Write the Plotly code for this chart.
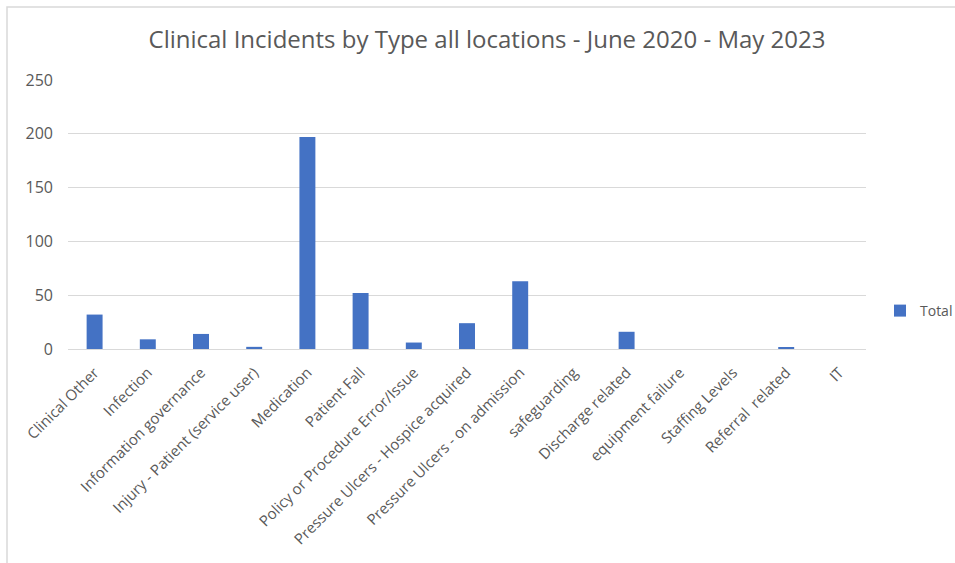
import plotly.graph_objects as go

categories = ["Clinical Other", "Infection", "Information governance",
              "Injury - Patient (service user)", "Medication", "Patient Fall",
              "Policy or Procedure Error/Issue", "Pressure Ulcers - Hospice acquired",
              "Pressure Ulcers - on admission", "safeguarding", "Discharge related",
              "equipment failure", "Staffing Levels", "Referral  related", "IT"]
totals = [32, 9, 14, 2, 197, 52, 6, 24, 63, 0, 16, 0, 0, 1, 0]
y_ticks = [0, 50, 100, 150, 200, 250]

W, H = 955, 563
L, R, T, B = 68, 89, 80, 214
pw = W - L - R
ph = H - T - B

font = "Open Sans"
grey = "#595959"

fig = go.Figure()
fig.add_trace(go.Bar(x=categories, y=totals, name="Total",
                     marker=dict(color="#4472C4", line=dict(width=0))))

fig.update_layout(
    width=W, height=H,
    margin=dict(l=L, r=R, t=T, b=B, autoexpand=False),
    paper_bgcolor="white", plot_bgcolor="white",
    bargap=0.7,
    showlegend=True,
    title=dict(text="Clinical Incidents by Type all locations - June 2020 - May 2023",
               x=487 / W, xanchor="center", y=1 - 40 / H, yanchor="middle",
               font=dict(family=font, size=24, color=grey)),
    font=dict(family=font, size=12, color=grey),
    legend=dict(x=(880 - L) / pw, xanchor="left", y=(349 - 311) / ph, yanchor="middle",
                font=dict(size=14, color=grey), bgcolor="rgba(0,0,0,0)",
                itemwidth=30),
    xaxis=dict(tickangle=-45, tickfont=dict(size=15, color=grey),
               showline=True, linecolor="#d9d9d9", linewidth=1,
               ticks="", showgrid=False, ticklabelstandoff=8),
    yaxis=dict(range=[0, 250], tickvals=y_ticks, tickfont=dict(size=16, color=grey),
               showgrid=True, gridcolor="#d9d9d9", gridwidth=1,
               zeroline=False, ticks="", ticklabelstandoff=14),
    shapes=[dict(type="rect", xref="paper", yref="paper",
                 x0=(7 - L) / pw, x1=(970 - L) / pw,
                 y0=(T + ph - 580) / ph, y1=(T + ph - 7) / ph,
                 line=dict(color="#d9d9d9", width=1.5), fillcolor="rgba(0,0,0,0)",
                 layer="below")],
)

fig.write_html("out.html")
